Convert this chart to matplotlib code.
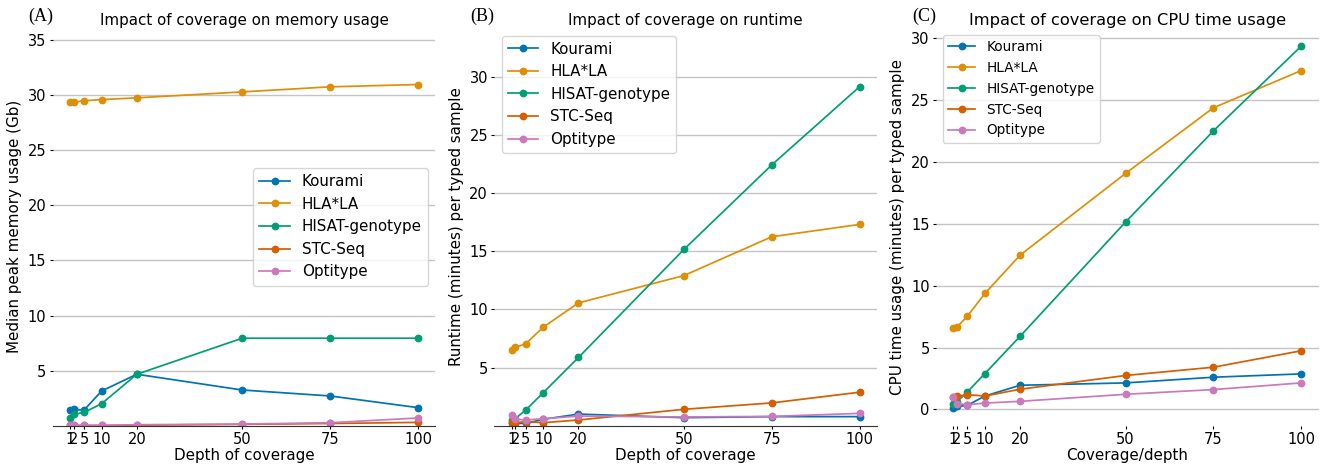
import matplotlib
matplotlib.use("Agg")
import matplotlib.pyplot as plt

depth = [1, 2, 5, 10, 20, 50, 75, 100]
tools = ["Kourami", "HLA*LA", "HISAT-genotype", "STC-Seq", "Optitype"]
colors = ["#0173b2", "#de8f05", "#029e73", "#d55e00", "#cc78bc"]

# (A) median peak memory usage (Gb)
mem_kourami = [1.42, 1.48, 1.42, 3.15, 4.67, 3.24, 2.7, 1.64]
mem_hlala = [29.36, 29.36, 29.5, 29.6, 29.76, 30.3, 30.76, 30.97]
mem_hisat = [0.67, 1.03, 1.2, 2.0, 4.67, 7.94, 7.94, 7.94]
mem_stc = [0.02, 0.02, 0.02, 0.02, 0.05, 0.12, 0.2, 0.3]
mem_opti = [0.03, 0.03, 0.03, 0.03, 0.09, 0.15, 0.27, 0.7]

# (B) runtime (minutes) per typed sample
run_kourami = [0.26, 0.2, 0.2, 0.55, 1.0, 0.69, 0.78, 0.78]
run_hlala = [6.53, 6.73, 7.05, 8.48, 10.56, 12.91, 16.25, 17.31]
run_hisat = [0.45, 0.6, 1.35, 2.85, 5.87, 15.16, 22.43, 29.16]
run_stc = [0.35, 0.26, 0.35, 0.26, 0.49, 1.41, 1.96, 2.88]
run_opti = [0.89, 0.55, 0.49, 0.6, 0.83, 0.75, 0.8, 1.06]

# (C) CPU time (minutes) per typed sample
cpu_kourami = [0.14, 0.24, 0.33, 1.08, 1.95, 2.14, 2.6, 2.87]
cpu_hlala = [6.61, 6.64, 7.53, 9.38, 12.47, 19.08, 24.39, 27.4]
cpu_hisat = [0.46, 0.6, 1.41, 2.9, 5.91, 15.15, 22.52, 29.38]
cpu_stc = [1.0, 1.06, 1.19, 1.08, 1.63, 2.74, 3.41, 4.74]
cpu_opti = [1.03, 0.46, 0.38, 0.51, 0.65, 1.22, 1.6, 2.14]

W, H = 1328, 466
fig = plt.figure(figsize=(W / 100, H / 100), dpi=100)

panels = [
    ("(A)", "Impact of coverage on memory usage", "Median peak memory usage (Gb)",
     "Depth of coverage", [mem_kourami, mem_hlala, mem_hisat, mem_stc, mem_opti],
     52.6, (0, 36.1), [5, 10, 15, 20, 25, 30, 35], "center right", 10.9, 10.9, True),
    ("(B)", "Impact of coverage on runtime", "Runtime (minutes) per typed sample",
     "Depth of coverage", [run_kourami, run_hlala, run_hisat, run_stc, run_opti],
     494.3, (0, 34.2), [5, 10, 15, 20, 25, 30], "upper left", 10.9, 10.9, True),
    ("(C)", "Impact of coverage on CPU time usage", "CPU time usage (minutes) per typed sample",
     "Coverage/depth", [cpu_kourami, cpu_hlala, cpu_hisat, cpu_stc, cpu_opti],
     935.9, (-1.32, 30.84), [0, 5, 10, 15, 20, 25, 30], "upper left", 9.8, 11.7, False),
]

ax_w, ax_top, ax_bot = 382.8, 28, 425.7
for tag, title, ylab, xlab, series, left, ylim, yticks, loc, lfs, tfs, spine in panels:
    ax = fig.add_axes([left / W, (H - ax_bot) / H, ax_w / W, (ax_bot - ax_top) / H])
    for name, vals, c in zip(tools, series, colors):
        ax.plot(depth, vals, marker="o", markersize=4.6, linewidth=1.25, color=c, label=name)
    ax.set_ylim(*ylim)
    ax.set_yticks(yticks)
    ax.set_xticks(depth)
    ax.grid(axis="y", color="#c4c4c4", linewidth=1)
    ax.set_axisbelow(True)
    for s in ["top", "right", "left"]:
        ax.spines[s].set_visible(False)
    ax.spines["bottom"].set_visible(spine)
    ax.spines["bottom"].set_color("#333333")
    ax.tick_params(labelsize=10.5, length=2.5, pad=2)
    ax.set_title(title, fontsize=tfs, pad=1.5)
    ax.set_xlabel(xlab, fontsize=10.9, labelpad=0.5)
    ax.set_ylabel(ylab, fontsize=10.9)
    ax.legend(loc=loc, fontsize=lfs)
    fig.text((left - 24) / W, 1 - 16 / H, tag, family="Liberation Serif", fontsize=13,
             va="center", ha="left")

fig.savefig("out.png", dpi=100)
